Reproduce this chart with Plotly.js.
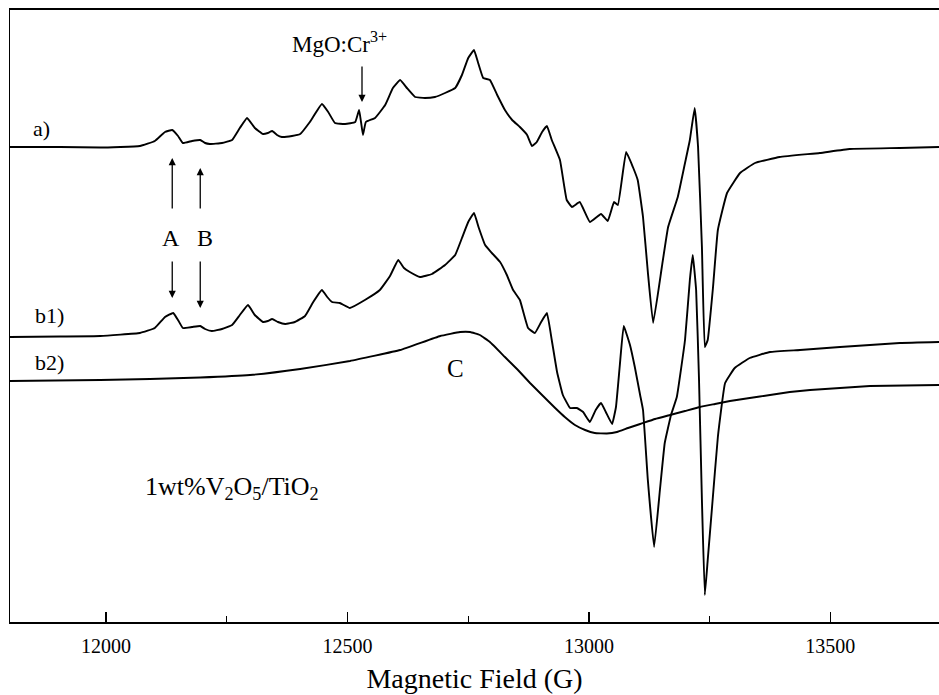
<!DOCTYPE html>
<html>
<head>
<meta charset="utf-8">
<script src="https://cdn.plot.ly/plotly-3.0.1.min.js"></script>
<style>html,body{margin:0;padding:0;background:#fff;} #chart{width:939px;height:695px;}</style>
</head>
<body>
<div id="chart"></div>
<script>
// Magnetic field (G) and EPR intensity (arbitrary units, offset for display)
const fieldA = [11801,11905,11988,12070,12101,12122,12137,12149,12159,12178,12195,12205,12215,12240,12261,12277,12292,12308,12325,12335,12344,12354,12364,12385,12402,12422,12447,12460,12474,12495,12516,12524,12528,12532,12538,12557,12578,12594,12609,12623,12640,12660,12681,12702,12723,12737,12750,12762,12770,12781,12795,12810,12826,12841,12857,12872,12882,12892,12903,12913,12923,12940,12954,12965,12981,13002,13025,13039,13052,13060,13077,13091,13101,13112,13122,13133,13151,13164,13184,13199,13209,13219,13226,13234,13240,13246,13257,13267,13286,13313,13344,13395,13478,13540,13644,13725];
const intensityA = [475,475,474.5,476,481,490,492,486,479,481,482,479,478,479,482,494,504,494,488,489,491,487,485,486,488,500,518,510,499,498,500,512,500,487,500,504,517,534,542,534,525,524,525,529,534,547,564,572,560,544,542,527,512,502,495,487,476,480,490,496,482,462,422,415,420,400,408,401,420,417,470,455,442,405,350,299,355,395,425,459,482,514,475,375,275,282,335,392,429,449,459,465,469,473,474,475];

const fieldB1 = [11801,11905,11988,12070,12101,12122,12139,12149,12159,12178,12195,12205,12219,12240,12261,12277,12294,12308,12325,12335,12344,12356,12371,12391,12412,12429,12447,12458,12468,12484,12505,12536,12567,12588,12605,12617,12629,12650,12675,12702,12723,12737,12750,12762,12772,12785,12799,12816,12830,12843,12857,12874,12888,12901,12913,12923,12934,12946,12961,12975,12988,13002,13014,13025,13035,13048,13056,13064,13072,13085,13095,13106,13112,13122,13135,13147,13157,13170,13182,13199,13209,13215,13222,13228,13234,13240,13246,13255,13267,13282,13302,13333,13375,13437,13520,13644,13725];
const intensityB1 = [285,285.5,286,289,294,305,309,302,294,295,296,293,291,293,297,307,317,307,300,301,303,300,298,300,306,320,332,325,320,319,314,322,332,346,362,354,350,345,348,357,367,384,400,409,394,377,369,360,347,332,322,294,289,300,309,282,250,227,214,214,210,200,212,219,210,198,215,257,296,277,255,227,212,142,75,132,179,207,225,282,342,367,332,242,122,27,62,115,185,239,254,264,270,272,275,279,280];

const fieldB2 = [11801,11988,12091,12195,12298,12402,12505,12609,12692,12733,12754,12774,12795,12826,12853,12878,12905,12930,12950,12971,12992,13012,13037,13058,13081,13106,13137,13168,13199,13230,13261,13292,13333,13375,13416,13458,13520,13582,13725];
const intensityB2 = [241,242,243,244.5,247,253,261,272,286,290,290,287,280,265,252,239,226,214,205,197,192,189,188.5,190,194,198,203,207,211,215,218,221,224,227,230,232,234,236,237];

const xTicks = [12000,12500,13000,13500];
const xTickText = ['12000','12500','13000','13500'];

const serif = '"Liberation Serif", "Times New Roman", Times, serif';
const lineStyle = {color:'#000', width:1.9, shape:'spline', smoothing:0.3};

const traces = [
  {x: fieldA, y: intensityA, mode:'lines', line: lineStyle, name:'a)'},
  {x: fieldB1, y: intensityB1, mode:'lines', line: lineStyle, name:'b1)'},
  {x: fieldB2, y: intensityB2, mode:'lines', line: lineStyle, name:'b2)'}
];

function txt(x, y, text, size){
  return {x:x, y:y, xref:'x', yref:'y', text:text, showarrow:false,
          font:{family:serif, size:size, color:'#000'}, xanchor:'center', yanchor:'middle'};
}
function arrow(x, yHead, yTail){
  return {x:x, y:yHead, ax:x, ay:yTail, xref:'x', yref:'y', axref:'x', ayref:'y',
          text:'', showarrow:true, arrowhead:2, arrowsize:1.1, arrowwidth:1.3, arrowcolor:'#000'};
}

const layout = {
  width:939, height:695,
  margin:{l:10, r:0, t:10, b:73},
  paper_bgcolor:'#fff', plot_bgcolor:'#fff',
  showlegend:false,
  xaxis:{
    range:[11801,13725], tickvals:xTicks, ticktext:xTickText,
    ticks:'inside', ticklen:10, tickwidth:1.5, tickcolor:'#000',
    showline:true, linecolor:'#000', linewidth:2, mirror:true,
    showgrid:false, zeroline:false,
    minor:{tickvals:[12250,12750,13250], ticks:'inside', ticklen:6, tickwidth:1.2, tickcolor:'#000'},
    tickfont:{family:serif, size:20, color:'#000'},
    ticklabelstandoff:5,
    title:{text:'Magnetic Field (G)', font:{family:serif, size:28, color:'#000'}, standoff:12}
  },
  yaxis:{
    range:[0,612], showline:true, linecolor:'#000', linewidth:1.5,
    showticklabels:false, ticks:'', showgrid:false, zeroline:false
  },
  annotations:[
    txt(11867, 494, 'a)', 22),
    txt(11882, 307, 'b1)', 22),
    txt(11882, 260, 'b2)', 22),
    txt(12135, 384, 'A', 24),
    txt(12205, 384, 'B', 24),
    txt(12484, 580, 'MgO:Cr<sup>3+</sup>', 23),
    txt(12723, 254, 'C', 25),
    txt(12261, 134, '1wt%V<sub>2</sub>O<sub>5</sub>/TiO<sub>2</sub>', 26),
    arrow(12137, 464, 412),
    arrow(12137, 324, 362),
    arrow(12195, 454, 412),
    arrow(12195, 314, 362),
    arrow(12530, 520, 557)
  ]
};

Plotly.newPlot('chart', traces, layout, {displayModeBar:false, staticPlot:true});
</script>
</body>
</html>
